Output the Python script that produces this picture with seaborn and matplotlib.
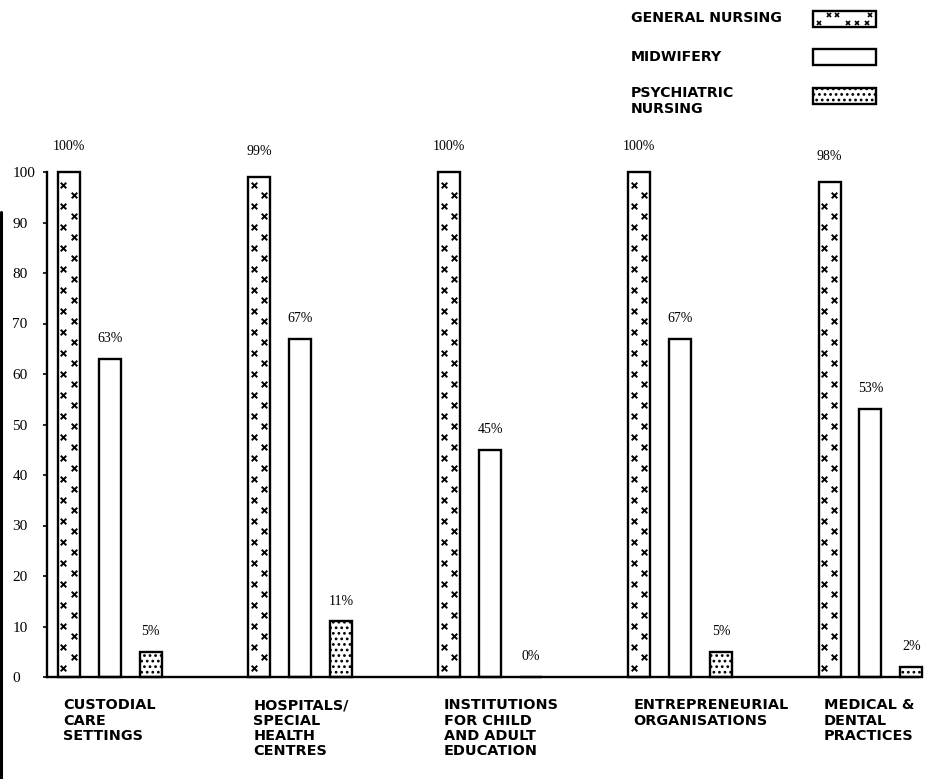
import numpy as np
import pandas as pd
import matplotlib
matplotlib.use("Agg")
import matplotlib.pyplot as plt
from matplotlib.patches import Rectangle
from matplotlib.lines import Line2D
import seaborn as sns

# ---------------- data ----------------
categories = ["CUSTODIAL\nCARE\nSETTINGS",
              "HOSPITALS/\nSPECIAL\nHEALTH\nCENTRES",
              "INSTITUTIONS\nFOR CHILD\nAND ADULT\nEDUCATION",
              "ENTREPRENEURIAL\nORGANISATIONS",
              "MEDICAL &\nDENTAL\nPRACTICES"]
series_names = ["GENERAL NURSING", "MIDWIFERY", "PSYCHIATRIC\nNURSING"]
general_nursing = [100, 99, 100, 100, 98]
midwifery = [63, 67, 45, 67, 53]
psychiatric_nursing = [5, 11, 0, 5, 2]
y_ticks = [0, 10, 20, 30, 40, 50, 60, 70, 80, 90, 100]

rows = []
for i, c in enumerate(categories):
    for s, vals in zip(series_names, [general_nursing, midwifery, psychiatric_nursing]):
        rows.append({"cat": i, "series": s, "value": vals[i]})
df = pd.DataFrame(rows)

# ---------------- style ----------------
sns.set_style("white")
plt.rcParams["hatch.linewidth"] = 1.2
plt.rcParams["hatch.color"] = "black"
plt.rcParams["text.color"] = "black"
plt.rcParams["axes.labelcolor"] = "black"
SERIF = ["Liberation Serif", "DejaVu Serif"]
SANS = ["DejaVu Sans"]

W, H = 928, 779
fig = plt.figure(figsize=(W / 100, H / 100), dpi=100)
ax = fig.add_axes([47 / W, (H - 677) / H, 871 / W, 505 / H])

sns.barplot(data=df, x="cat", y="value", hue="series", hue_order=series_names,
            order=list(range(len(categories))), native_scale=True,
            width=0.645, gap=0.46, palette=["white"] * 3, edgecolor="black",
            linewidth=1.7, saturation=1, legend=False, errorbar=None, ax=ax)

ax.set_xlim(-0.33, 4.25)
ax.set_ylim(0, 100)

containers = ax.containers
gen_c, mid_c, psy_c = containers[0], containers[1], containers[2]

# psychiatric bars: dotted pattern
for p in psy_c:
    p.set_hatch("...")
    p.set_clip_on(False)

# general nursing bars: scattered x marks derived from bar geometry
for p in gen_c:
    p.set_clip_on(False)
    x0, w, h = p.get_x(), p.get_width(), p.get_height()
    ys = np.arange(1.8, h - 1.0, 2.08)
    xs = np.where(np.arange(len(ys)) % 2 == 0, x0 + 0.25 * w, x0 + 0.72 * w)
    ax.scatter(xs, ys, marker="x", s=16, color="black", linewidths=1.4,
               zorder=5, clip_on=False)
for p in mid_c:
    p.set_clip_on(False)

# value labels
for cont, vals, pad in [(gen_c, general_nursing, 14), (mid_c, midwifery, 10),
                        (psy_c, psychiatric_nursing, 10)]:
    ax.bar_label(cont, labels=[f"{v}%" for v in vals], padding=pad,
                 fontsize=10, family=SERIF, color="black")

# axes styling
sns.despine(ax=ax, top=True, right=True)
ax.spines["left"].set_linewidth(1.7)
ax.spines["bottom"].set_linewidth(1.7)
ax.spines["left"].set_color("black")
ax.spines["bottom"].set_color("black")
ax.set_yticks(y_ticks)
ax.set_yticklabels([str(t) for t in y_ticks], family=SERIF, fontsize=11)
ax.tick_params(axis="y", direction="out", length=3, width=1.2, pad=22,
               left=True, colors="black", labelcolor="black")
for lab in ax.get_yticklabels():
    lab.set_horizontalalignment("left")
ax.set_xticks([])
ax.set_xlabel("")
ax.set_ylabel("")

# category labels
tr = ax.get_xaxis_transform()
for i, c in enumerate(categories):
    ax.text(i - 0.245, -0.042, c, transform=tr, ha="left", va="top",
            fontsize=10.4, fontweight="bold", family=SANS, linespacing=1.12,
            color="black")

# legend (manual, top right)
leg_y = [18, 57, 101]
for name, yc, in zip(series_names, leg_y):
    fig.text(631 / W, 1 - yc / H, name, ha="left", va="center", fontsize=10.2,
             fontweight="bold", family=SANS, linespacing=1.1, color="black")
rect_h = 15
for k, yc in enumerate([19, 57, 96]):
    r = Rectangle((813 / W, 1 - (yc + rect_h / 2) / H), 63 / W, rect_h / H,
                  transform=fig.transFigure, facecolor="white",
                  edgecolor="black", linewidth=1.7,
                  hatch="..." if k == 2 else None)
    fig.add_artist(r)
    if k == 0:
        bx, by, bw, bh = r.get_x(), r.get_y(), r.get_width(), r.get_height()
        mx = bx + bw * np.array([0.1, 0.38, 0.7, 0.9, 0.25, 0.55, 0.85])
        my = by + bh * np.array([0.22, 0.78, 0.22, 0.78, 0.78, 0.22, 0.22])
        fig.add_artist(Line2D(mx, my, transform=fig.transFigure,
                              linestyle="none", marker="x", markersize=3.5,
                              color="black", markeredgewidth=1.2))

# scan border at left edge
fig.add_artist(Line2D([1.5 / W, 1.5 / W], [0, 1 - 212 / H],
                      transform=fig.transFigure, color="black", linewidth=2.2))

fig.savefig("out.png", dpi=100, facecolor="white")
